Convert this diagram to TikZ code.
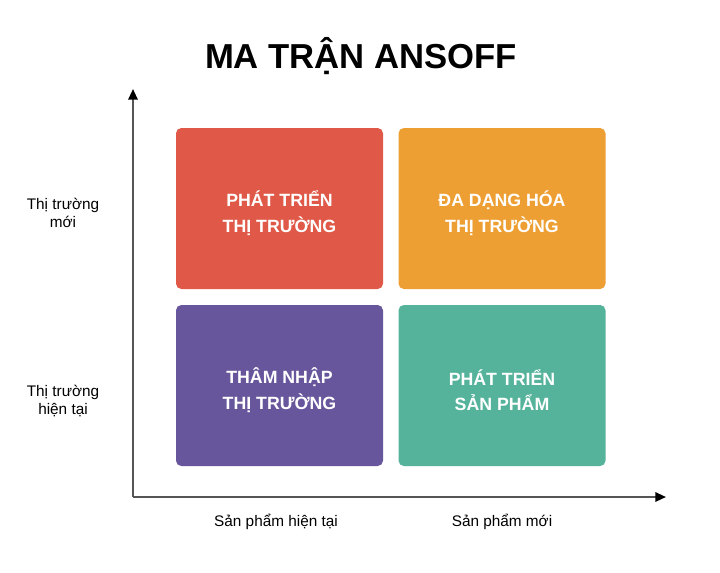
\documentclass[tikz,border=0pt]{standalone}
\usepackage{fontspec}
\setmainfont{Liberation Sans}
\usetikzlibrary{arrows.meta}
\definecolor{cred}{HTML}{E05847}
\definecolor{corange}{HTML}{ED9F33}
\definecolor{cpurple}{HTML}{67569B}
\definecolor{cteal}{HTML}{55B39B}
\definecolor{caxis}{HTML}{555555}
\tikzset{
  quad/.style={fill=#1, draw=none, rounded corners=4pt, minimum width=155.25pt, minimum height=120.75pt, inner sep=0pt,
    text=white, font=\bfseries\fontsize{13.3pt}{19pt}\selectfont, align=center},
  axislbl/.style={font=\fontsize{11.5pt}{13.5pt}\selectfont, align=center, text=black},
  axisline/.style={draw=caxis, line width=1.5pt, -{Triangle[length=8pt,width=7pt,fill=black,color=black]}},
}
\begin{document}
\begin{tikzpicture}[x=0.75pt,y=-0.75pt]
\useasboundingbox (0,0) rectangle (720,572);
\fill[white] (0,0) rectangle (720,572);
\node[font=\bfseries\fontsize{26pt}{30pt}\selectfont] (title) at (361,56) {MA TRẬN ANSOFF};
\coordinate (origin) at (133,497);
\coordinate (ytip) at (133,89);
\coordinate (xtip) at (666,497);
\draw[axisline] (origin) -- (ytip);
\draw[axisline] (origin) -- (xtip);
\node[quad=cred] (mdev) at (279.5,208.5) {};
\node[quad=corange] (div) at (502,208.5) {};
\node[quad=cpurple] (pen) at (279.5,385.5) {};
\node[quad=cteal] (pdev) at (502,385.5) {};
\node[quad=none, fill=none, yshift=-3.5pt] (mdevt) at (mdev) {PHÁT TRIỂN\\THỊ TRƯỜNG};
\node[quad=none, fill=none, yshift=-3.5pt] (divt) at (div) {ĐA DẠNG HÓA\\THỊ TRƯỜNG};
\node[quad=none, fill=none, yshift=-3.5pt] (pent) at (pen) {THÂM NHẬP\\THỊ TRƯỜNG};
\node[quad=none, fill=none, yshift=-3.5pt] (pdevt) at (pdev) {PHÁT TRIỂN\\SẢN PHẨM};
\node[axislbl] (ynew) at (63,213) {Thị trường\\mới};
\node[axislbl] (ycur) at (63,401) {Thị trường\\hiện tại};
\node[axislbl] (xcur) at (276,522) {Sản phẩm hiện tại};
\node[axislbl] (xnew) at (502,522) {Sản phẩm mới};
\end{tikzpicture}
\end{document}
